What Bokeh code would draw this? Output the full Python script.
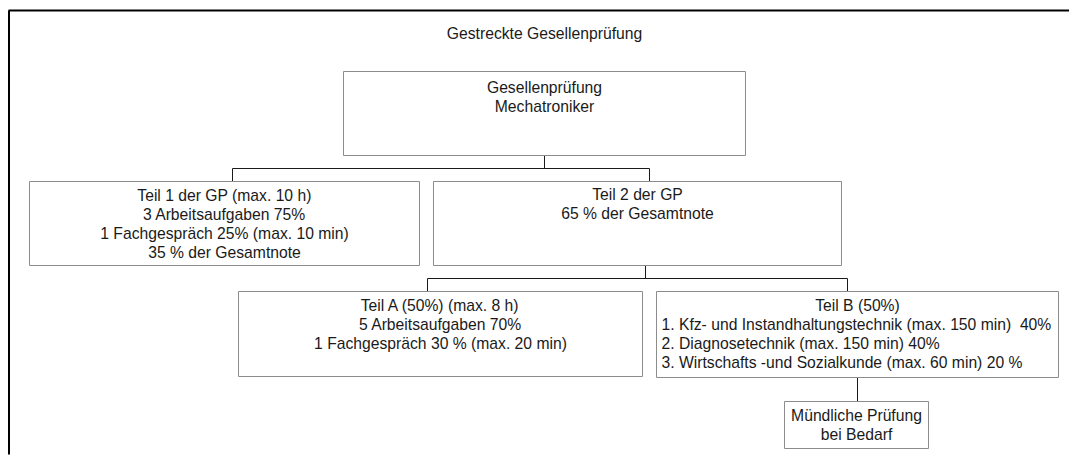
from bokeh.plotting import figure
from bokeh.models import Range1d, ColumnDataSource
from bokeh.core.properties import value
from bokeh.embed import file_html
from bokeh.resources import INLINE

# ---- content (data) ----
title_text = "Gestreckte Gesellenprüfung"
node_ids = ["root", "teil1", "teil2", "teilA", "teilB", "muendlich"]
node_parents = [None, "root", "root", "teil2", "teil2", "teilB"]
root_lines = ["Gesellenprüfung", "Mechatroniker"]
teil1_lines = ["Teil 1 der GP (max. 10 h)", "3 Arbeitsaufgaben 75%",
               "1 Fachgespräch 25% (max. 10 min)", "35 % der Gesamtnote"]
teil2_lines = ["Teil 2 der GP", "65 % der Gesamtnote"]
teilA_lines = ["Teil A (50%) (max. 8 h)", "5 Arbeitsaufgaben 70%",
               "1 Fachgespräch 30 % (max. 20 min)"]
teilB_head = ["Teil B (50%)"]
teilB_items = ["1. Kfz- und Instandhaltungstechnik (max. 150 min)\u00a0 40%",
               "2. Diagnosetechnik (max. 150 min) 40%",
               "3. Wirtschafts -und Sozialkunde (max. 60 min) 20 %"]
muendlich_lines = ["Mündliche Prüfung", "bei Bedarf"]

# ---- layout (page pixel coordinates) ----
box = {  # left, right, top, bottom
    "root": (343, 745, 71, 155),
    "teil1": (29, 419, 181, 265),
    "teil2": (433, 841, 181, 265),
    "teilA": (238, 642, 291, 376),
    "teilB": (656, 1058, 291, 377),
    "muendlich": (784, 928, 401, 448),
}
# connector x positions: where line leaves parent and enters child
out_x = {"root": 544, "teil2": 645, "teilB": 857}
in_x = {"teil1": 232, "teil2": 649, "teilA": 427, "teilB": 847, "muendlich": 857}
LINE_H = 19
FONT = value("Liberation Sans")
FS = "15.7px"
TXT = "#1a1a1a"

W, H = 1069, 455
p = figure(width=W, height=H, output_backend="svg", toolbar_location=None,
           x_range=Range1d(0, W), y_range=Range1d(H, 0),
           min_border=0, x_axis_location=None, y_axis_location=None,
           background_fill_color="white", border_fill_color="white",
           outline_line_color=None)
p.xgrid.visible = False
p.ygrid.visible = False

# outer frame (top and left)
p.segment(x0=[8, 8.5], y0=[10, 10], x1=[W, 8.5], y1=[10, 454],
          line_color="black", line_width=2)

# title
p.text(x=[544], y=[33], text=[title_text], text_align="center",
       text_baseline="middle", text_font=FONT, text_font_size=FS, text_color=TXT)

# connectors
xs, ys = [], []
children = {}
for nid, par in zip(node_ids, node_parents):
    if par is not None:
        children.setdefault(par, []).append(nid)
for par, kids in children.items():
    pb = box[par][3]
    ct = box[kids[0]][2]
    if len(kids) == 1:
        xs.append([out_x[par], in_x[kids[0]]]); ys.append([pb, ct])
    else:
        mid = ct - 13
        xs.append([out_x[par], out_x[par]]); ys.append([pb, mid])
        kx = [in_x[k] for k in kids]
        xs.append([min(kx), max(kx)]); ys.append([mid, mid])
        for k in kids:
            xs.append([in_x[k], in_x[k]]); ys.append([mid, box[k][2]])
p.multi_line(xs=xs, ys=ys, line_color="#1a1a1a", line_width=1)

# boxes
src = ColumnDataSource(dict(
    left=[box[n][0] for n in node_ids], right=[box[n][1] for n in node_ids],
    top=[box[n][2] for n in node_ids], bottom=[box[n][3] for n in node_ids]))
p.quad(left="left", right="right", top="top", bottom="bottom", source=src,
       fill_color="white", line_color="#8c8c8c", line_width=1)

# texts
first_offset = {"root": 16, "teil1": 14, "teil2": 13, "teilA": 14,
                "teilB": 14, "muendlich": 14}
center_text = {"root": root_lines, "teil1": teil1_lines, "teil2": teil2_lines,
               "teilA": teilA_lines, "teilB": teilB_head,
               "muendlich": muendlich_lines}
cx, cy, ct = [], [], []
for nid, lines in center_text.items():
    l, r, t, b = box[nid]
    for i, s in enumerate(lines):
        cx.append((l + r) / 2)
        cy.append(t + first_offset[nid] + i * LINE_H)
        ct.append(s)
p.text(x=cx, y=cy, text=ct, text_align="center", text_baseline="middle",
       text_font=FONT, text_font_size=FS, text_color=TXT)

lx, ly = [], []
for i, s in enumerate(teilB_items):
    lx.append(box["teilB"][0] + 5)
    ly.append(box["teilB"][2] + first_offset["teilB"] + (i + 1) * LINE_H)
p.text(x=lx, y=ly, text=teilB_items, text_align="left", text_baseline="middle",
       text_font=FONT, text_font_size=FS, text_color=TXT)

open("out.html", "w").write(file_html(p, INLINE))
